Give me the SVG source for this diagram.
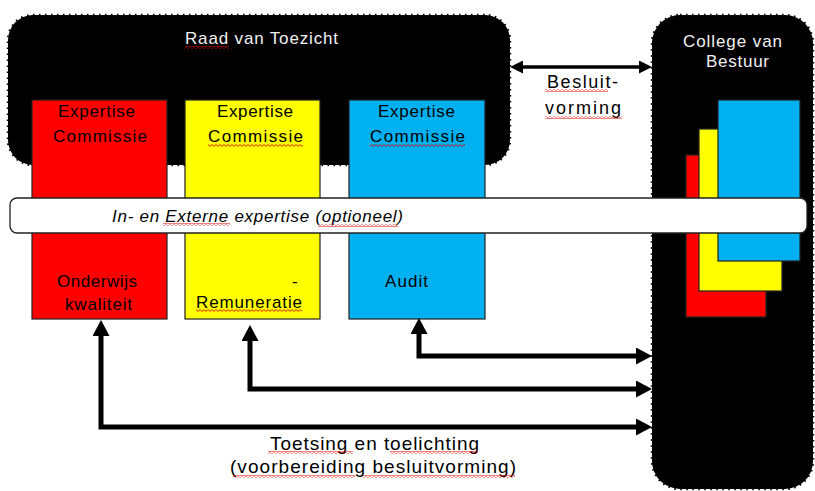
<svg xmlns="http://www.w3.org/2000/svg" width="815" height="491" viewBox="0 0 815 491">
  <defs>
    <style>
      text { font-family: "Liberation Sans", Arial, sans-serif; }
      .board { fill: #000; stroke: #000; stroke-width: 2.5; stroke-dasharray: 1.5 4.5; }
      .light { fill: #f2f2f2; font-size: 17px; }
      .lbl { fill: #000; font-size: 17px; }
      .mid { fill: #000; font-size: 18px; }
      .big { fill: #000; font-size: 19px; }
      .box { stroke: #222; stroke-width: 1.2; }
      .red { fill: #ff0000; }
      .yellow { fill: #ffff00; }
      .blue { fill: #00b0f0; }
      .link { fill: none; stroke: #000; stroke-width: 5; marker-start: url(#head); marker-end: url(#head); }
      .link2 { fill: none; stroke: #000; stroke-width: 3.5; marker-start: url(#head2); marker-end: url(#head2); }
      .wave { fill: url(#squiggle); }
    </style>
    <marker id="head" markerUnits="userSpaceOnUse" markerWidth="16" markerHeight="17" refX="6" refY="8.5" orient="auto-start-reverse" viewBox="0 0 16 17">
      <path d="M0,0 L16,8.5 L0,17 z" fill="#000"/>
    </marker>
    <marker id="head2" markerUnits="userSpaceOnUse" markerWidth="13" markerHeight="13" refX="5" refY="6.5" orient="auto-start-reverse" viewBox="0 0 13 13">
      <path d="M0,0 L13,6.5 L0,13 z" fill="#000"/>
    </marker>
    <pattern id="squiggle" patternUnits="userSpaceOnUse" width="4" height="3">
      <path d="M0,0.6 L2,2.4 L4,0.6" fill="none" stroke="#e00000" stroke-width="0.9"/>
    </pattern>
  </defs>

  <!-- Supervisory board -->
  <g id="raad">
    <rect class="board" x="8" y="15" width="502" height="150" rx="25"/>
    <text class="light" x="185" y="44" textLength="153" lengthAdjust="spacing">Raad van Toezicht</text>
    <rect class="wave" x="185" y="46" width="44" height="3"/>
  </g>

  <!-- Executive board -->
  <g id="college">
    <rect class="board" x="652" y="15" width="161" height="474" rx="28"/>
    <text class="light" x="683" y="47" textLength="99" lengthAdjust="spacing">College van</text>
    <text class="light" x="706" y="67" textLength="63" lengthAdjust="spacing">Bestuur</text>
    <rect class="box red" x="686" y="155" width="80" height="162"/>
    <rect class="box yellow" x="699" y="129" width="83" height="162"/>
    <rect class="box blue" x="718" y="100" width="82" height="161"/>
  </g>

  <!-- Committees -->
  <g id="commissie-onderwijs">
    <rect class="box red" x="32" y="100" width="135" height="219"/>
    <text class="lbl" x="58" y="117" textLength="77" lengthAdjust="spacing">Expertise</text>
    <text class="lbl" x="53" y="142" textLength="94" lengthAdjust="spacing">Commissie</text>
    <text class="lbl" x="57" y="287" textLength="80" lengthAdjust="spacing">Onderwijs</text>
    <text class="lbl" x="65" y="310" textLength="67" lengthAdjust="spacing">kwaliteit</text>
  </g>

  <g id="commissie-remuneratie">
    <rect class="box yellow" x="185" y="100" width="135" height="219"/>
    <text class="lbl" x="217" y="117" textLength="76" lengthAdjust="spacing">Expertise</text>
    <text class="lbl" x="208" y="142" textLength="95" lengthAdjust="spacing">Commissie</text>
    <rect class="wave" x="208" y="144" width="95" height="3"/>
    <text class="lbl" x="292" y="287">-</text>
    <text class="lbl" x="196" y="308" textLength="106" lengthAdjust="spacing">Remuneratie</text>
    <rect class="wave" x="196" y="309" width="106" height="3"/>
  </g>

  <g id="commissie-audit">
    <rect class="box blue" x="349" y="100" width="136" height="219"/>
    <text class="lbl" x="378" y="117" textLength="77" lengthAdjust="spacing">Expertise</text>
    <text class="lbl" x="370" y="142" textLength="95" lengthAdjust="spacing">Commissie</text>
    <rect class="wave" x="370" y="144" width="95" height="3"/>
    <text class="lbl" x="385" y="287" textLength="43" lengthAdjust="spacing">Audit</text>
  </g>

  <!-- Internal / external expertise band -->
  <g id="expertise">
    <rect x="10" y="198" width="797" height="35" rx="7" fill="#fff" stroke="#222" stroke-width="1.3"/>
    <text class="lbl" x="112" y="222" font-style="italic" textLength="291" lengthAdjust="spacing">In- en Externe expertise (optioneel)</text>
    <rect class="wave" x="163" y="223" width="67" height="3"/>
    <rect class="wave" x="318" y="224" width="80" height="3"/>
  </g>

  <!-- Connectors -->
  <g id="connectors">
    <path class="link2" d="M518,67 H644"/>
    <path class="link" d="M419,328 V356 H642"/>
    <path class="link" d="M250,335 V389 H642"/>
    <path class="link" d="M101,330 V427 H642"/>
  </g>

  <!-- Connector labels -->
  <g id="labels">
    <text class="mid" x="547" y="88" textLength="71" lengthAdjust="spacing">Besluit-</text>
    <rect class="wave" x="545" y="89" width="63" height="3"/>
    <text class="mid" x="545" y="114" textLength="76" lengthAdjust="spacing">vorming</text>
    <rect class="wave" x="545" y="116" width="77" height="3"/>
    <text class="big" x="270" y="450" textLength="209" lengthAdjust="spacing">Toetsing en toelichting</text>
    <rect class="wave" x="268" y="451" width="85" height="3"/>
    <rect class="wave" x="390" y="451" width="88" height="3"/>
    <text class="big" x="230" y="473" textLength="286" lengthAdjust="spacing">(voorbereiding besluitvorming)</text>
    <rect class="wave" x="233" y="475" width="122" height="3"/>
    <rect class="wave" x="363" y="475" width="152" height="3"/>
  </g>
</svg>
